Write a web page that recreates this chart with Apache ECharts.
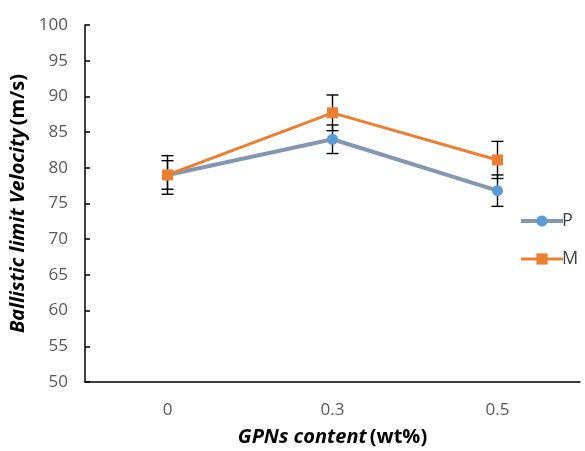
<!DOCTYPE html>
<html><head><meta charset="utf-8">
<script src="https://cdn.jsdelivr.net/npm/echarts@6/dist/echarts.min.js"></script>
<style>html,body{margin:0;padding:0;background:#fff}#c{width:585px;height:451px}</style>
</head><body><div id="c"></div>
<script>
const categories = ['0', '0.3', '0.5'];
const pValues = [79.0, 84.0, 76.8];
const pErrors = [2.0, 2.0, 2.2];
const mValues = [79.0, 87.7, 81.1];
const mErrors = [2.7, 2.5, 2.6];
const yTicks = {min: 50, max: 100, interval: 5};

const FONT = '"Open Sans", "DejaVu Sans", sans-serif';

function errData(vals, errs) {
  return vals.map((v, i) => [i, v - errs[i], v + errs[i]]);
}
function errSeries(name, vals, errs) {
  return {
    type: 'custom', name: name + '_err', z: 1,
    data: errData(vals, errs),
    renderItem: function (params, api) {
      const x = api.value(0);
      const lo = api.coord([x, api.value(1)]);
      const hi = api.coord([x, api.value(2)]);
      const w = 6;
      const st = {stroke: '#000', lineWidth: 1.4};
      return {type: 'group', children: [
        {type: 'line', shape: {x1: lo[0], y1: lo[1], x2: hi[0], y2: hi[1]}, style: st},
        {type: 'line', shape: {x1: lo[0]-w, y1: lo[1], x2: lo[0]+w, y2: lo[1]}, style: st},
        {type: 'line', shape: {x1: hi[0]-w, y1: hi[1], x2: hi[0]+w, y2: hi[1]}, style: st}
      ]};
    }
  };
}

const chart = echarts.init(document.getElementById('c'));
chart.setOption({
  animation: false,
  textStyle: {fontFamily: FONT},
  grid: {left: 85, right: 5, top: 25, bottom: 69, containLabel: false, outerBoundsMode: 'none'},
  legend: {
    orient: 'vertical', left: 514, top: 207, itemGap: 20,
    itemWidth: 42, itemHeight: 14,
    data: [
      {name: 'P', lineStyle: {width: 4, color: '#8497B0'}},
      {name: 'M', lineStyle: {width: 3, color: '#ED7D31'}}
    ],
    textStyle: {fontSize: 18, color: '#404040', fontFamily: FONT, padding: [0,0,0,-6]}
  },
  xAxis: {
    type: 'category', data: categories, boundaryGap: true,
    axisLine: {lineStyle: {color: '#000', width: 1.5}},
    axisTick: {inside: true, alignWithLabel: true, length: 4, lineStyle: {color: '#000', width: 1.5}},
    axisLabel: {fontSize: 17, color: '#595959', margin: 20},
    name: '{bi|GPNs content} {b|(wt%)}', nameLocation: 'middle', nameGap: 45,
    nameTextStyle: {rich: {
      bi: {fontSize: 20, fontWeight: 'bold', fontStyle: 'italic', color: '#000', fontFamily: FONT},
      b: {fontSize: 20, fontWeight: 'bold', color: '#000', fontFamily: FONT}
    }}
  },
  yAxis: {
    type: 'value', min: yTicks.min, max: yTicks.max, interval: yTicks.interval,
    splitLine: {show: false},
    axisLine: {show: true, lineStyle: {color: '#000', width: 1.5}},
    axisTick: {show: true, inside: true, length: 5, lineStyle: {color: '#000', width: 1.5}},
    axisLabel: {fontSize: 17, color: '#595959', margin: 17},
    name: '{bi|Ballistic limit Velocity} {b|(m/s)}', nameLocation: 'middle', nameGap: 56,
    nameTextStyle: {rich: {
      bi: {fontSize: 20, fontWeight: 'bold', fontStyle: 'italic', color: '#000', fontFamily: FONT},
      b: {fontSize: 20, fontWeight: 'bold', color: '#000', fontFamily: FONT}
    }}
  },
  series: [
    errSeries('P', pValues, pErrors),
    errSeries('M', mValues, mErrors),
    {
      name: 'P', type: 'line', data: pValues, z: 3,
      symbol: 'circle', symbolSize: 11,
      lineStyle: {color: '#8497B0', width: 4},
      itemStyle: {color: '#5B9BD5'}
    },
    {
      name: 'M', type: 'line', data: mValues, z: 4,
      symbol: 'rect', symbolSize: 11,
      lineStyle: {color: '#ED7D31', width: 3},
      itemStyle: {color: '#ED7D31'}
    }
  ]
});
</script></body></html>
